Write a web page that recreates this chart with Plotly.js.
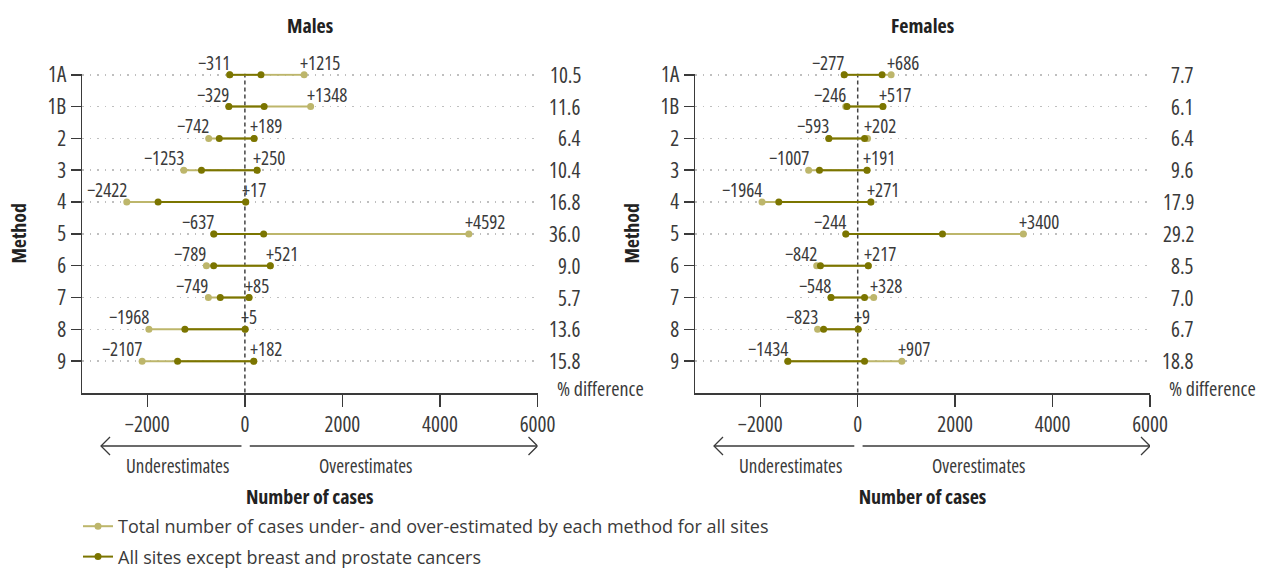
<!DOCTYPE html>
<html><head><meta charset="utf-8">
<script src="https://cdn.plot.ly/plotly-3.0.1.min.js"></script>
<style>
html,body{margin:0;padding:0;background:#fff;}
#chart{width:1262px;height:569px;}
svg text{font-stretch:75%;}
svg text.legendtext{font-stretch:100% !important;}
</style>
</head><body><div id="chart"></div>
<script>
// ---- data ----
const methods = ['1A','1B','2','3','4','5','6','7','8','9'];
// Males: total (all sites)
const malesTotalLow  = [-311,-329,-742,-1253,-2422,-637,-789,-749,-1968,-2107];
const malesTotalHigh = [1215,1348,189,250,17,4592,521,85,5,182];
// Males: all sites except breast and prostate
const malesExclLow   = [-311,-329,-525,-890,-1780,-637,-640,-505,-1230,-1380];
const malesExclHigh  = [330,395,189,250,17,385,521,85,5,182];
const malesPctDiff   = ['10.5','11.6','6.4','10.4','16.8','36.0','9.0','5.7','13.6','15.8'];
// Females: total (all sites)
const femalesTotalLow  = [-277,-246,-593,-1007,-1964,-244,-842,-548,-823,-1434];
const femalesTotalHigh = [686,517,202,191,271,3400,217,328,9,907];
// Females: all sites except breast and prostate
const femalesExclLow   = [-277,-220,-593,-785,-1620,-244,-765,-548,-700,-1434];
const femalesExclHigh  = [500,517,140,191,271,1740,217,140,9,140];
const femalesPctDiff   = ['7.7','6.1','6.4','9.6','17.9','29.2','8.5','7.0','6.7','18.8'];
const xTickVals = [-2000,0,2000,4000,6000];
const xTickText = ['\u22122000','0','2000','4000','6000'];
const seriesNames = ['Total number of cases under- and over-estimated by each method for all sites',
                     'All sites except breast and prostate cancers'];

// ---- style / layout ----
const W = 1262, H = 569;
const FONT = "'Open Sans',sans-serif";
const LIGHT = '#bdb66b', DARK = '#7b7500', INK = '#3a3a3a';
const rowIdx = methods.map((m,i)=>i);
const xRange = [-3340, 6000];
const yRange = [methods.length, -0.04];

function segTrace(lo, hi, color, name, xa, ya, showlegend){
  const x = [], y = [];
  lo.forEach((v,i)=>{ x.push(v, hi[i], null); y.push(rowIdx[i], rowIdx[i], null); });
  return {type:'scatter', mode:'lines+markers', x, y, xaxis:xa, yaxis:ya, name,
    legendgroup:name, showlegend, line:{color, width:2}, marker:{color, size:7},
    hoverinfo:'skip', cliponaxis:false};
}

const traces = [
  segTrace(malesTotalLow, malesTotalHigh, LIGHT, seriesNames[0], 'x', 'y', true),
  segTrace(malesExclLow, malesExclHigh, DARK, seriesNames[1], 'x', 'y', true),
  segTrace(femalesTotalLow, femalesTotalHigh, LIGHT, seriesNames[0], 'x2', 'y2', false),
  segTrace(femalesExclLow, femalesExclHigh, DARK, seriesNames[1], 'x2', 'y2', false)
];

function xaxisCfg(domain, anchor){
  return {domain, anchor, range:xRange, tickvals:xTickVals, ticktext:xTickText,
    showgrid:false, zeroline:false, showline:true, linecolor:INK, linewidth:1.5,
    ticks:'outside', ticklen:12, tickwidth:1.5, tickcolor:INK,
    tickfont:{family:FONT, size:21, color:INK},
    title:{text:'<b>Number of cases</b>', font:{family:FONT, size:20, color:'#222'}, standoff:53},
    fixedrange:true};
}
function yaxisCfg(domain, anchor){
  return {domain, anchor, range:yRange, tickvals:rowIdx, ticktext:methods,
    showgrid:true, gridcolor:'#bfbfbf', griddash:'1.5px,6px', gridwidth:1.5,
    zeroline:false, showline:true, linecolor:INK, linewidth:1.5,
    ticks:'outside', ticklen:10, tickwidth:1.5, tickcolor:INK,
    tickfont:{family:FONT, size:21, color:INK},
    title:{text:'<b>Method</b>', font:{family:FONT, size:20, color:'#222'}, standoff:15},
    fixedrange:true};
}

const yDom = [1 - 393/H, 1 - 73.5/H];
const panels = [
  {title:'Males', xa:'x', ya:'y', xd:[82/W, 537.5/W], lo:malesTotalLow, hi:malesTotalHigh, pct:malesPctDiff, pctRight:583, pctLabel:555},
  {title:'Females', xa:'x2', ya:'y2', xd:[695/W, 1150/W], lo:femalesTotalLow, hi:femalesTotalHigh, pct:femalesPctDiff, pctRight:1196, pctLabel:1167}
];

const annotations = [];
const shapes = [];
const labFont = {family:FONT, size:19, color:INK};
panels.forEach(p=>{
  // panel title
  annotations.push({xref:p.xa+' domain', yref:'paper', x:0.5, y:1-25.5/H, xanchor:'center', yanchor:'middle',
    text:'<b>'+p.title+'</b>', showarrow:false, font:{family:FONT, size:20, color:'#222'}});
  // value labels
  p.lo.forEach((v,i)=>{
    annotations.push({xref:p.xa, yref:p.ya, x:v, y:rowIdx[i], text:'\u2212'+Math.abs(v),
      xanchor:'right', yanchor:'middle', xshift:2, yshift:12, showarrow:false, font:labFont});
    annotations.push({xref:p.xa, yref:p.ya, x:p.hi[i], y:rowIdx[i], text:'+'+p.hi[i],
      xanchor:'left', yanchor:'middle', xshift:-6, yshift:12, showarrow:false, font:labFont});
  });
  // % difference column
  p.pct.forEach((t,i)=>{
    annotations.push({xref:'paper', yref:p.ya, x:p.pctRight/W, y:rowIdx[i], text:t,
      xanchor:'right', yanchor:'middle', showarrow:false, font:{family:FONT, size:21, color:INK}});
  });
  annotations.push({xref:'paper', yref:p.ya, x:p.pctLabel/W, y:methods.length-0.15, text:'% difference',
    xanchor:'left', yanchor:'middle', showarrow:false, font:{family:FONT, size:20, color:INK}});
  // direction arrows (line + open chevron)
  const arrowY = 1 - 446/H;
  shapes.push({type:'line', xref:p.xa, yref:'paper', x0:-2950, x1:-70, y0:arrowY, y1:arrowY,
    line:{color:INK, width:1.3}});
  shapes.push({type:'line', xref:p.xa, yref:'paper', x0:100, x1:6000, y0:arrowY, y1:arrowY,
    line:{color:INK, width:1.3}});
  shapes.push({type:'path', xref:p.xa, yref:'paper', xsizemode:'pixel', ysizemode:'pixel',
    xanchor:-2950, yanchor:arrowY, path:'M9,9L0,0L9,-9', line:{color:INK, width:1.3}});
  shapes.push({type:'path', xref:p.xa, yref:'paper', xsizemode:'pixel', ysizemode:'pixel',
    xanchor:6000, yanchor:arrowY, path:'M-9,9L0,0L-9,-9', line:{color:INK, width:1.3}});
  annotations.push({xref:p.xa, yref:'paper', x:-1374, y:1-466/H, text:'Underestimates', xanchor:'center', yanchor:'middle',
    showarrow:false, font:{family:FONT, size:19, color:INK}});
  annotations.push({xref:p.xa, yref:'paper', x:2482, y:1-466/H, text:'Overestimates', xanchor:'center', yanchor:'middle',
    showarrow:false, font:{family:FONT, size:19, color:INK}});
  // dashed zero line
  shapes.push({type:'line', xref:p.xa, yref:p.ya, x0:0, x1:0, y0:rowIdx[0]-0.04, y1:yRange[0],
    line:{color:'#444', width:1.5, dash:'4px,3px'}, layer:'below'});
});

const layout = {
  width:W, height:H, margin:{l:0, r:0, t:0, b:0, autoexpand:false},
  paper_bgcolor:'#fff', plot_bgcolor:'#fff',
  xaxis:xaxisCfg(panels[0].xd, 'y'),
  yaxis:yaxisCfg(yDom, 'x'),
  xaxis2:xaxisCfg(panels[1].xd, 'y2'),
  yaxis2:yaxisCfg(yDom, 'x2'),
  showlegend:true,
  legend:{x:78/W, y:1-508/H, xanchor:'left', yanchor:'top', orientation:'v', tracegroupgap:4,
    font:{family:FONT, size:18, color:INK}, bgcolor:'rgba(0,0,0,0)', borderwidth:0},
  annotations, shapes
};

Plotly.newPlot('chart', traces, layout, {displayModeBar:false, staticPlot:true});
</script>
</body></html>
